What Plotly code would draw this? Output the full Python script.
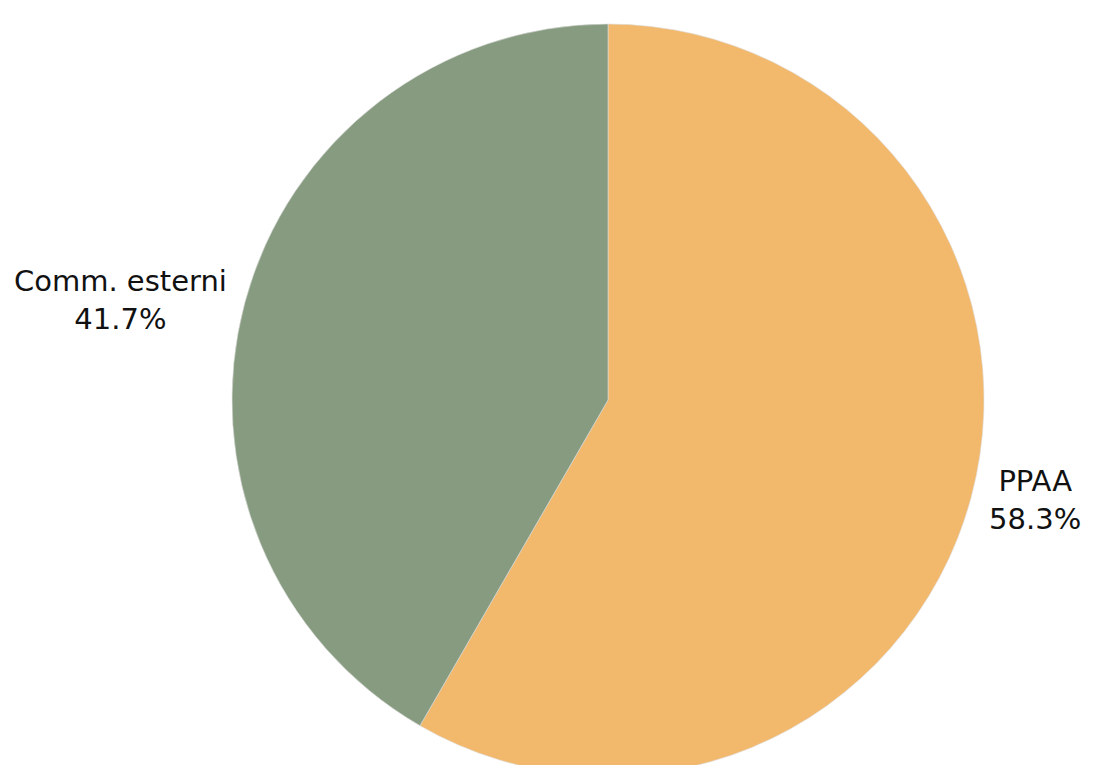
import plotly.graph_objects as go

labels = ["PPAA", "Comm. esterni"]
values = [7, 5]
colors = ["#F2B86C", "#869B7F"]

fig = go.Figure(go.Pie(
    labels=labels,
    values=values,
    marker=dict(colors=colors, line=dict(color="#DDDDDD", width=0.6)),
    textinfo="label+percent",
    textposition="outside",
    texttemplate="%{label}<br>%{percent:.1%}",
    textfont=dict(family="DejaVu Sans", size=29, color="#111111"),
    sort=False,
    direction="clockwise",
    rotation=0,
    showlegend=False,
    hoverinfo="label+percent",
    automargin=False,
))

fig.update_layout(
    width=1098,
    height=790,
    margin=dict(l=232, r=114, t=24, b=14),
    paper_bgcolor="white",
    plot_bgcolor="white",
)

fig.write_html(
    "out.html",
    config={"displayModeBar": False},
    post_script="document.body.style.margin='0';document.body.style.overflow='hidden';document.documentElement.style.overflow='hidden';",
)
